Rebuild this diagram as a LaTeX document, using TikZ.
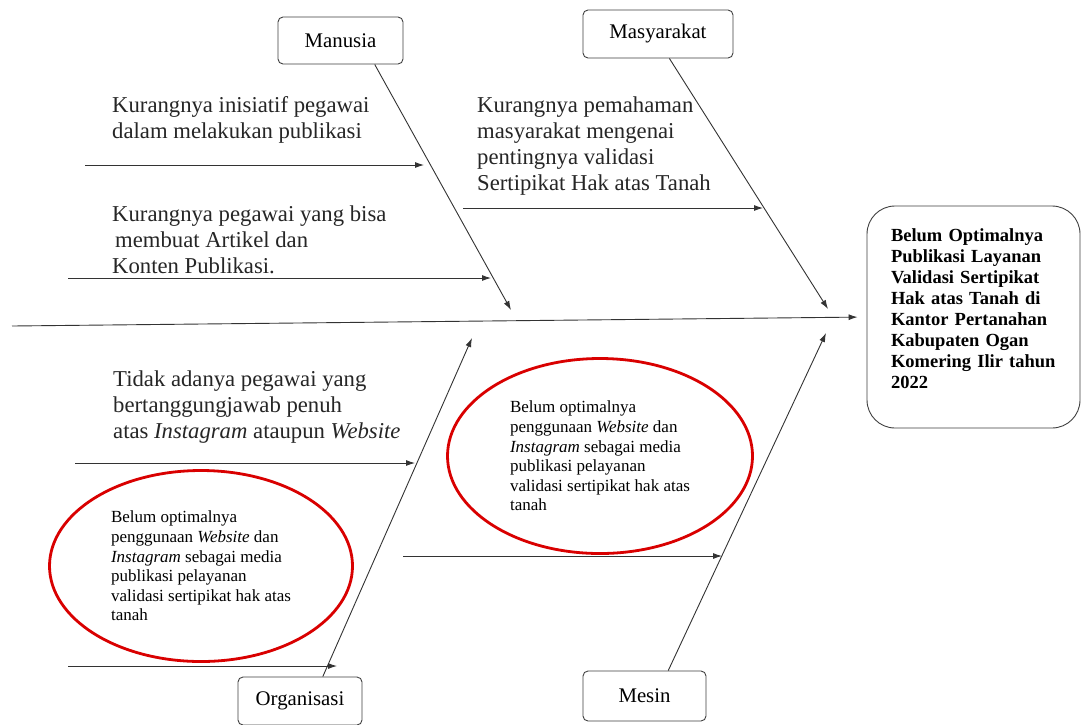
\documentclass[tikz,border=0pt]{standalone}
\usepackage{fontspec}
\setmainfont{Liberation Serif}
\usetikzlibrary{arrows.meta,shapes.geometric}
\begin{document}
\begin{tikzpicture}[x=1pt,y=-1pt,
  catbox/.style={draw=black!75, rounded corners=5pt, minimum width=124pt, minimum height=48pt, font=\fontsize{20.8}{24}\selectfont, line width=0.9pt, inner sep=0pt},
  bone/.style={draw=black!80, line width=0.9pt, -{Latex[length=9pt,width=6pt]}},
  cause/.style={font=\fontsize{22.7}{26}\selectfont, align=left, anchor=north west, inner sep=0pt, text=black!85},
  ring/.style={ellipse, draw=red!85!black, line width=2.8pt, align=left, inner sep=0pt, font=\fontsize{17}{19.6}\selectfont},
  effbox/.style={draw=black!75, rounded corners=28pt, minimum width=213pt, minimum height=222pt, line width=0.9pt},
  efftext/.style={text width=166pt, align=left, inner sep=0pt, font=\fontsize{18.5}{21}\selectfont\bfseries}]
\useasboundingbox (0,0) rectangle (1083,724);
\fill[white] (0,0) rectangle (1083,724);

% category boxes
\node[catbox, minimum width=125pt, minimum height=47pt] (man) at (340.5,40.5) {Manusia};
\node[catbox, minimum width=150pt] (mas) at (658,34) {Masyarakat};
\node[catbox] (org) at (300,701) {Organisasi};
\node[catbox, minimum width=123pt, minimum height=50pt] (mes) at (644.5,696) {Mesin};

% effect
\node[effbox] (eff) at (973.5,317) {};
\node[efftext] (efft) at (974,309) {Belum Optimalnya\\Publikasi Layanan\\Validasi Sertipikat\\Hak atas Tanah di\\Kantor Pertanahan\\Kabupaten Ogan\\Komering Ilir tahun\\2022};

% red ellipses with text
\node[ring, minimum width=303pt, minimum height=191pt] (ell1) at (201,566) {Belum optimalnya\\penggunaan \textit{Website} dan\\\textit{Instagram} sebagai media\\publikasi pelayanan\\validasi sertipikat hak atas\\tanah};
\node[ring, minimum width=305pt, minimum height=195pt] (ell2) at (600,456) {Belum optimalnya\\penggunaan \textit{Website} dan\\\textit{Instagram} sebagai media\\publikasi pelayanan\\validasi sertipikat hak atas\\tanah};

% cause texts
\node[cause] (t1) at (112,96) {Kurangnya inisiatif pegawai\\dalam melakukan publikasi};
\node[cause] (t2) at (112,206) {Kurangnya pegawai yang bisa\\\hspace*{3pt}membuat Artikel dan\\Konten Publikasi.};
\node[cause] (t3) at (477,97) {Kurangnya pemahaman\\masyarakat mengenai\\pentingnya validasi\\Sertipikat Hak atas Tanah};
\node[cause] (t4) at (113,371) {Tidak adanya pegawai yang\\bertanggungjawab penuh\\atas \textit{Instagram} ataupun \textit{Website}};

% coordinates
\coordinate (s0) at (12,326);
\coordinate (manTip) at (511,310);
\coordinate (masTip) at (828,309);
\coordinate (orgTip) at (472,338);
\coordinate (mesTip) at (826,333);
\coordinate (b1a) at (85,165);  \coordinate (b1b) at (424,165);
\coordinate (b2a) at (68,278);  \coordinate (b2b) at (491,278);
\coordinate (b3a) at (463,208); \coordinate (b3b) at (763,208);
\coordinate (b4a) at (75,463);  \coordinate (b4b) at (415,463);
\coordinate (b5a) at (68,666);  \coordinate (b5b) at (337,666);
\coordinate (b6a) at (403,556); \coordinate (b6b) at (722,556);

% spine
\draw[bone, shorten >=9pt] (s0) -- (eff.west);
% category bones
\draw[bone] (man.-35) -- (manTip);
\draw[bone] (mas.-65) -- (masTip);
\draw[bone] (org.47) -- (orgTip);
\draw[bone] (mes.47) -- (mesTip);
% cause branches
\draw[bone] (b1a) -- (b1b);
\draw[bone] (b2a) -- (b2b);
\draw[bone] (b3a) -- (b3b);
\draw[bone] (b4a) -- (b4b);
\draw[bone] (b5a) -- (b5b);
\draw[bone] (b6a) -- (b6b);
\end{tikzpicture}
\end{document}
